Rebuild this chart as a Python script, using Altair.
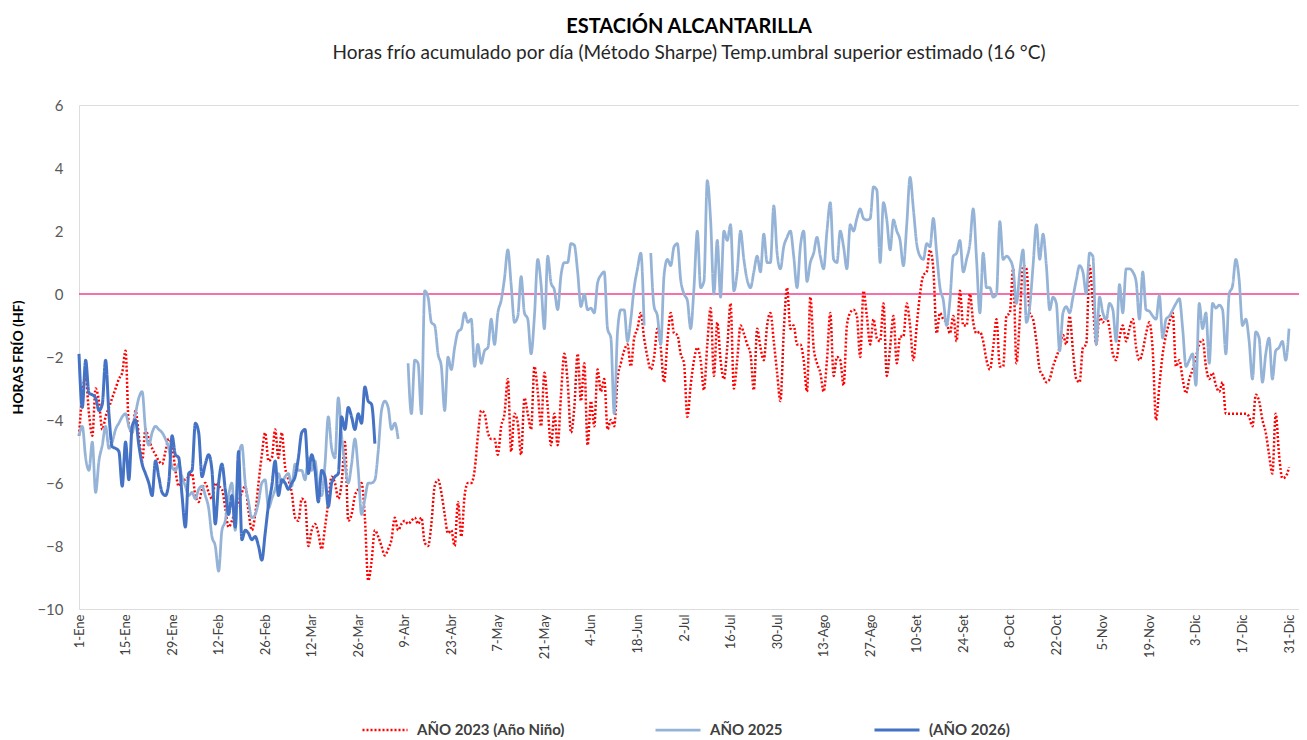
import altair as alt
import pandas as pd

# ---------------- data ----------------
tick_labels = ["1-Ene", "15-Ene", "29-Ene", "12-Feb", "26-Feb", "12-Mar", "26-Mar",
               "9-Abr", "23-Abr", "7-May", "21-May", "4-Jun", "18-Jun", "2-Jul",
               "16-Jul", "30-Jul", "13-Ago", "27-Ago", "10-Set", "24-Set", "8-Oct",
               "22-Oct", "5-Nov", "19-Nov", "3-Dic", "17-Dic", "31-Dic"]

series_names = ["AÑO 2023 (Año Niño)", "AÑO 2025", "(AÑO 2026)"]

hf_2023 = [
    -4.5, -3.2, -2.6, -3.8, -4.5, -3.0, -3.4, -4.3, -3.9, -3.6,
    -3.3, -3.0, -2.7, -2.5, -1.8, -4.2, -4.4, -3.7, -4.5, -5.3,
    -4.3, -4.6, -4.9, -5.1, -5.3, -5.4, -5.0, -4.6, -4.8, -5.6,
    -6.1, -5.9, -5.9, -5.8, -5.7, -6.4, -6.6, -6.2, -6.0, -6.3,
    -6.5, -6.0, -6.1, -6.2, -6.8, -7.4, -7.2, -6.9, -6.6, -6.3,
    -6.1, -6.9, -7.5, -7.0, -6.0, -5.1, -4.4, -5.3, -5.2, -4.3,
    -5.2, -4.4, -5.5, -5.9, -6.3, -7.1, -7.2, -6.5, -6.6, -8.0,
    -7.5, -7.3, -7.6, -8.1, -7.4, -6.6, -5.8, -6.0, -6.5, -6.0,
    -4.7, -7.2, -7.0, -6.4, -6.2, -6.0, -7.1, -9.1, -8.5, -7.5,
    -7.7, -8.0, -8.3, -8.1, -7.8, -7.1, -7.5, -7.3, -7.2, -7.3,
    -7.2, -7.1, -7.3, -7.1, -7.9, -8.0, -7.3, -6.1, -5.9, -6.3,
    -7.0, -7.6, -7.5, -8.0, -6.6, -7.7, -6.4, -6.0, -6.0, -5.6,
    -4.5, -3.7, -3.8, -4.4, -4.6, -4.6, -5.1, -4.2, -3.8, -2.7,
    -5.0, -3.8, -4.1, -5.1, -3.3, -3.8, -4.3, -2.3, -3.1, -4.2,
    -2.5, -3.6, -4.8, -3.8, -4.8, -3.2, -1.9, -2.8, -4.4, -3.6,
    -1.9, -3.4, -2.2, -4.8, -3.4, -4.2, -2.4, -3.1, -2.7, -4.3,
    -4.0, -4.2, -2.7, -2.2, -1.8, -1.6, -2.3, -1.4, -1.1, -0.6,
    -1.4, -2.0, -2.4, -2.0, -1.1, -1.7, -2.8, -1.5, -0.6, -1.25,
    -1.3, -1.9, -2.2, -3.9, -2.9, -2.1, -1.7, -2.1, -3.05, -1.6,
    -0.45, -2.6, -0.9, -2.1, -2.7, -1.7, -0.3, -3.0, -2.1, -1.0,
    -1.25, -1.6, -1.9, -3.05, -1.1, -1.7, -2.1, -1.0, -0.6, -1.5,
    -2.5, -3.4, -1.2, 0.2, -1.1, -1.0, -1.6, -1.6, -2.1, -3.1,
    -0.1, -1.7, -2.2, -2.5, -3.1, -2.1, -0.6, -2.6, -2.0, -2.1,
    -2.9, -1.0, -0.6, -0.5, -0.7, -2.0, 0.1, -0.7, -1.6, -0.8,
    -1.4, -1.5, -0.3, -2.6, -1.7, -0.7, -2.2, -1.35, -1.35, -0.3,
    -1.0, -2.1, -1.0, 0.0, 0.6, 0.7, 1.4, 0.8, -1.25, -0.6,
    -0.8, -0.9, -1.25, -0.7, -1.5, 0.1, -1.0, -1.0, 0.0, -0.9,
    -1.25, -1.2, -1.5, -2.1, -2.4, -1.7, -0.8, -2.3, -2.3, -0.7,
    -0.6, 0.8, -2.2, -0.8, 0.9, 0.8, -0.6, -0.8, -1.5, -2.4,
    -2.6, -2.8, -2.7, -2.3, -2.0, -1.7, -1.3, -1.6, -0.7, -1.8,
    -2.7, -2.8, -1.7, -1.6, 0.9, -0.3, -1.6, -0.7, -0.9, -0.7,
    -1.1, -1.9, -2.1, -1.4, -1.0, -1.5, -1.1, -0.8, -1.7, -2.1,
    -1.8, -1.25, -0.9, -1.8, -4.0, -2.9, -1.9, -1.3, -0.9, -0.6,
    -2.3, -2.1, -2.7, -3.15, -2.7, -2.4, -2.0, -1.6, -1.45, -2.3,
    -2.7, -2.5, -2.9, -3.1, -2.8, -3.8, -3.8, -3.8, -3.8, -3.8,
    -3.8, -3.8, -3.9, -4.2, -3.2, -3.4, -4.0, -4.4, -5.1, -5.7,
    -3.8, -5.1, -5.85, -5.8, -5.5,
]

hf_2025 = [
    -4.5, -4.2, -5.2, -5.6, -4.7, -6.3, -5.3, -4.8, -4.2, -4.9,
    -4.7, -4.3, -4.1, -3.9, -3.8, -4.2, -4.4, -3.8, -3.3, -3.1,
    -4.3, -4.8, -4.4, -4.2, -4.3, -4.4, -4.6, -4.9, -5.5, -5.6,
    -5.4, -5.8, -6.1, -6.4, -6.3, -6.5, -6.2, -6.1, -6.4, -6.8,
    -7.7, -8.0, -8.8, -7.5, -7.2, -6.4, -6.0, -7.5, -5.2, -4.8,
    -6.0, -6.6, -7.1, -7.0, -6.6, -6.0, -5.9, -6.8, -6.5, -6.2,
    -5.7, -6.0, -5.8, -5.7, -6.1, -5.4, -5.6, -5.6, -5.9, -5.2,
    -5.6, -5.3, -6.2, -6.4, -5.4, -3.9, -4.9, -5.2, -3.3, -4.5,
    -5.4, -6.0, -5.4, -4.6, -5.6, -7.0, -6.5, -6.0, -6.0, -5.9,
    -5.0, -3.7, -3.4, -3.6, -4.3, -4.1, -4.6, None, None, -2.2,
    -3.8, -2.1, -2.2, -3.8, 0.1, -0.1, -0.9, -1.0, -1.9, -2.3,
    -3.7, -2.0, -2.4, -1.7, -1.2, -1.1, -0.6, -0.9, -0.8, -2.3,
    -1.6, -2.2, -1.8, -1.7, -0.8, -1.6, -0.6, -0.2, 0.5, 1.4,
    0.3, -0.9, -0.7, 0.55, -0.6, -0.8, -1.9, -0.7, 1.1, 0.3,
    -1.1, 1.2, 0.35, 0.13, -0.5, 0.6, 1.0, 1.0, 1.6, 1.55,
    0.7, -0.4, 0.0, -0.5, -0.45, -0.6, 0.35, 0.6, 0.7, -1.1,
    -1.4, -3.8, -1.2, -0.5, -0.5, -1.5, -0.8, 0.2, 0.8, 1.3,
    -1.0, None, 1.3, -0.4, -0.7, -1.6, 0.6, 1.1, 0.9, 1.5,
    1.6, 0.45, 0.0, -0.2, -1.1, 0.2, 2.0, 0.2, 0.4, 3.6,
    2.35, 0.0, 1.7, -0.1, 2.0, 1.7, 2.2, 0.1, 0.7, 2.0,
    1.1, 0.45, 0.2, 0.7, 1.2, 0.7, 1.9, 1.0, 1.0, 2.8,
    1.3, 0.8, 1.5, 1.8, 2.0, 1.2, 0.2, 1.5, 2.0, 0.4,
    1.0, 1.3, 1.8, 1.2, 0.8, 2.0, 2.9, 1.1, 1.0, 2.0,
    1.5, 0.8, 2.2, 2.0, 2.4, 2.7, 2.4, 2.35, 2.4, 3.4,
    3.3, 1.0, 2.9, 2.35, 1.4, 2.35, 2.0, 1.7, 0.9, 2.2,
    3.7, 2.7, 1.6, 1.2, 1.1, 1.6, 1.5, 2.4, 1.3, 0.2,
    -0.2, -1.0, -0.2, 1.2, 1.3, 1.7, 0.7, 1.1, 1.6, 2.7,
    1.1, -0.6, 1.3, 0.2, 0.2, -0.1, 0.0, 2.3, 1.1, 1.2,
    1.1, 0.8, -0.3, 0.7, 1.4, -0.9, -0.4, 0.9, 2.2, 1.1,
    1.9, 0.9, -0.5, -0.1, -0.3, -1.8, -0.6, -0.4, -0.6, -0.1,
    0.45, 0.9, 0.7, 0.0, 1.3, 1.2, -1.6, -0.1, -0.6, -0.8,
    -0.3, -0.5, -1.5, 0.3, -0.6, 0.8, 0.8, 0.7, 0.4, -0.8,
    0.7, -0.5, -0.55, -0.7, -0.8, -0.05, -1.4, -0.8, -0.7, -0.5,
    -0.3, -0.15, -1.1, -2.3, -2.1, -1.9, -2.9, -0.3, -1.1, -0.6,
    -2.2, -0.3, -0.45, -0.35, -0.5, -1.9, 0.0, 0.25, 1.1, 0.45,
    -1.0, -0.8, -1.5, -2.7, -1.2, -1.4, -2.8, -1.9, -1.4, -2.7,
    -1.8, -1.7, -1.5, -2.1, -1.1,
]

hf_2026 = [
    -1.9, -3.6, -2.1, -3.15, -3.2, -3.3, -3.7, -3.5, -2.1, -3.8,
    -4.85, -4.9, -5.0, -6.1, -4.7, -5.9, -4.2, -4.0, -4.8, -5.4,
    -5.7, -6.0, -6.4, -5.3, -5.8, -6.3, -6.4, -6.0, -4.5, -5.1,
    -5.2, -6.4, -7.4, -5.7, -5.6, -4.1, -4.4, -5.8, -5.4, -5.1,
    -5.6, -7.3, -6.0, -5.4, -6.2, -7.0, -6.4, -7.4, -5.0, -7.8,
    -7.5, -7.6, -7.8, -7.7, -8.0, -8.45, -7.6, -6.7, -6.1, -5.3,
    -6.4, -5.9, -6.0, -6.2, -6.0, -5.8, -5.2, -4.4, -4.3, -5.7,
    -5.1, -5.6, -6.6, -5.6, -5.8, -6.75, -6.0, -5.8, -5.7, -3.9,
    -4.3, -3.6, -3.9, -4.3, -3.8, -4.1, -2.95, -3.4, -3.5, -4.75,
]

y_ticks = [-10, -8, -6, -4, -2, 0, 2, 4, 6]

# ---------------- table ----------------
rows = []
for name, vals in zip(series_names, [hf_2023, hf_2025, hf_2026]):
    seg = 0
    for d, v in enumerate(vals):
        if v is None:
            seg += 1
            continue
        rows.append({"dia": d, "hf": v, "serie": name, "seg": f"{name}-{seg}"})
df = pd.DataFrame(rows)

label_expr = "[" + ",".join(f"'{t}'" for t in tick_labels) + "][round(datum.value / 14)]"
x_values = [14 * i for i in range(len(tick_labels))]

FONT = "Lato"

x_enc = alt.X(
    "dia:Q",
    scale=alt.Scale(domain=[0, 367], nice=False, zero=False),
    axis=alt.Axis(values=x_values, labelExpr=label_expr, labelAngle=270,
                  grid=False, ticks=False, domain=False, labelPadding=5,
                  labelFontSize=13, labelColor="#404040", labelFont=FONT,
                  title=None, labelOverlap=False),
)
y_enc = alt.Y(
    "hf:Q",
    scale=alt.Scale(domain=[-10, 6], nice=False, zero=False),
    axis=alt.Axis(values=y_ticks, grid=False, ticks=False, domain=False,
                  labelPadding=16, labelFontSize=15, labelColor="#595959",
                  labelFont=FONT, title="HORAS FRÍO (HF)", titleFontSize=14,
                  titleFont=FONT, titleFontWeight="bold", titleColor="#000000",
                  titleX=-61, titleY=252, titleBaseline="middle", titleAngle=270),
)

legend_cfg = dict(title=None, orient="none", legendX=282, legendY=601,
                  direction="horizontal", symbolType="stroke",
                  symbolSize=2025, symbolStrokeWidth=3, columnPadding=85,
                  labelFontSize=15, labelFontWeight="bold", labelFont=FONT,
                  labelColor="#404040", labelLimit=400, labelOffset=8)

zero = alt.Chart(pd.DataFrame({"cero": [0]})).mark_rule(
    color="#F0438C", strokeWidth=1.5
).encode(y=alt.Y("cero:Q", scale=alt.Scale(domain=[-10, 6], nice=False)))

lines = alt.Chart(df).mark_line(interpolate="monotone").encode(
    x=x_enc,
    y=y_enc,
    detail="seg:N",
    color=alt.Color(
        "serie:N",
        scale=alt.Scale(domain=series_names, range=["#FF0000", "#95B3D7", "#4472C4"]),
        legend=alt.Legend(**legend_cfg),
    ),
    strokeDash=alt.StrokeDash(
        "serie:N",
        scale=alt.Scale(domain=series_names, range=[[2, 2], [1, 0], [1, 0]]),
        legend=alt.Legend(**legend_cfg),
    ),
    strokeWidth=alt.StrokeWidth(
        "serie:N",
        scale=alt.Scale(domain=series_names, range=[2.5, 3, 3]),
        legend=None,
    ),
    order=alt.Order("dia:Q"),
)

chart = alt.layer(zero, lines).properties(
    width=1220,
    height=504,
    autosize=alt.AutoSizeParams(type="none"),
    padding={"left": 71, "top": 97, "right": 0, "bottom": 128},
    title=alt.TitleParams(
        text="ESTACIÓN ALCANTARILLA",
        subtitle="Horas frío acumulado por día (Método Sharpe) Temp.umbral superior estimado (16 °C)",
        font=FONT, fontSize=20, fontWeight="bold", color="#000000",
        subtitleFont=FONT, subtitleFontSize=19, subtitleColor="#262626",
        subtitlePadding=7, anchor="middle", frame="group", offset=35,
    ),
).configure_view(stroke="#BFBFBF", strokeWidth=1.5).configure(background="white")

chart.save("out.html", embed_options={"renderer": "svg", "actions": False})
